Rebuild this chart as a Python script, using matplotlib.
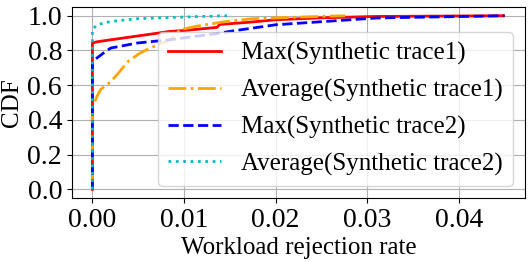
import matplotlib
matplotlib.use("Agg")
import matplotlib.pyplot as plt

plt.rcParams['font.family'] = ['Liberation Serif', 'DejaVu Serif']

# CDF curves
max1_x = [0, 0, 0.0005, 0.0034, 0.0085, 0.01, 0.0136, 0.0139, 0.017, 0.020, 0.025, 0.031, 0.0449]
max1_y = [0, 0.843, 0.85, 0.872, 0.91, 0.915, 0.933, 0.95, 0.962, 0.977, 0.988, 0.996, 1.0]

avg1_x = [0, 0, 0.00014, 0.0005, 0.0009, 0.002, 0.003, 0.0039, 0.0052, 0.0063, 0.0085, 0.0096,
          0.0114, 0.0146, 0.0175, 0.0248, 0.0276]
avg1_y = [0, 0.47, 0.49, 0.536, 0.575, 0.62, 0.68, 0.737, 0.785, 0.814, 0.862, 0.92,
          0.94, 0.967, 0.983, 0.996, 1.0]

max2_x = [0, 0, 0.0012, 0.002, 0.0049, 0.0085, 0.0139, 0.015, 0.020, 0.031, 0.034, 0.045]
max2_y = [0, 0.737, 0.785, 0.814, 0.843, 0.862, 0.9, 0.91, 0.948, 0.987, 0.99, 1.0]

avg2_x = [0, 0, 0.0005, 0.002, 0.0049, 0.0085, 0.012, 0.0147]
avg2_y = [0, 0.92, 0.948, 0.967, 0.983, 0.99, 0.996, 1.0]

labels = ["Max(Synthetic trace1)", "Average(Synthetic trace1)",
          "Max(Synthetic trace2)", "Average(Synthetic trace2)"]

fig, ax = plt.subplots(figsize=(5.32, 2.62), dpi=100)

ax.plot(max1_x, max1_y, color="red", linestyle="-", linewidth=2, label=labels[0])
ax.plot(avg1_x, avg1_y, color="orange", linestyle="-.", linewidth=2, label=labels[1])
ax.plot(max2_x, max2_y, color="blue", linestyle="--", linewidth=2, label=labels[2])
ax.plot(avg2_x, avg2_y, color="c", linestyle=":", linewidth=2, label=labels[3])

ax.grid(True, color="#b0b0b0")
ax.set_xticks([0, 0.01, 0.02, 0.03, 0.04])
ax.set_yticks([0, 0.2, 0.4, 0.6, 0.8, 1.0])
ax.tick_params(labelsize=20)
ax.set_xlabel("Workload rejection rate", fontsize=18, labelpad=3)
ax.set_ylabel("CDF", fontsize=18, labelpad=3)
ax.legend(loc="lower right", fontsize=18, handlelength=2.1, labelspacing=0.55)

fig.subplots_adjust(left=0.135, right=0.987, top=0.973, bottom=0.244)
fig.savefig("out.png")
